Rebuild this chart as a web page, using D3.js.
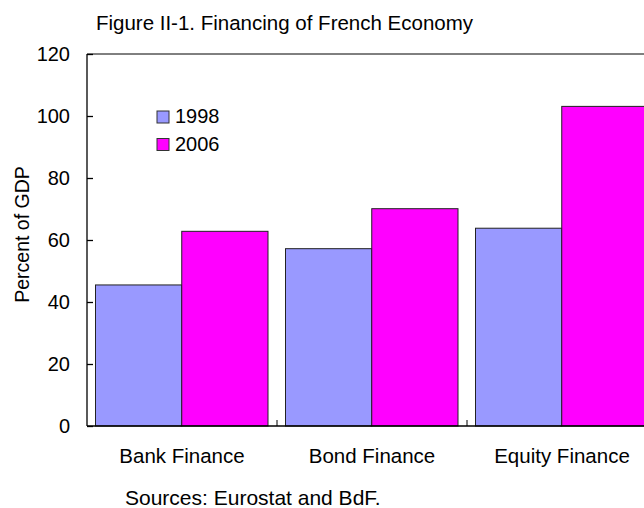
<!DOCTYPE html>
<html>
<head>
<meta charset="utf-8">
<script src="https://cdn.jsdelivr.net/npm/d3@7"></script>
<style>
  body { margin: 0; background: #fff; }
  text { font-family: "Liberation Sans", Arial, sans-serif; fill: #000; }
</style>
</head>
<body>
<div id="chart"></div>
<script>
var categories = ["Bank Finance", "Bond Finance", "Equity Finance"];
var years = ["1998", "2006"];
var values1998 = [45.5, 57.2, 63.8];
var values2006 = [62.8, 70.1, 103.1];
var yTicks = [0, 20, 40, 60, 80, 100, 120];
var colors = ["#9999ff", "#ff00ff"];

var width = 644;
var height = 508;
var plotLeft = 87, plotRight = 657, plotTop = 54, plotBottom = 426;

var svg = d3.select("#chart")
    .append("svg")
    .attr("width", width)
    .attr("height", height);

var x0 = d3.scaleBand().domain(categories).range([plotLeft, plotRight]);
var x1 = d3.scaleBand().domain(years).range([8.5, x0.bandwidth() - 9]);
var y = d3.scaleLinear().domain([0, 120]).range([plotBottom, plotTop]);

var series = [values1998, values2006];

// bars
var groups = svg.selectAll("g.cat")
    .data(categories)
    .enter().append("g")
    .attr("class", "cat")
    .attr("transform", function(d){ return "translate(" + x0(d) + ",0)"; });

groups.selectAll("rect")
    .data(function(d, i){ return years.map(function(yr, j){ return {yr: yr, v: series[j][i], c: colors[j]}; }); })
    .enter().append("rect")
    .attr("x", function(d){ return x1(d.yr); })
    .attr("y", function(d){ return y(d.v); })
    .attr("width", x1.bandwidth())
    .attr("height", function(d){ return y(0) - y(d.v); })
    .style("fill", function(d){ return d.c; })
    .style("stroke", "#222")
    .style("stroke-width", 1);

// frame top line
svg.append("line")
    .attr("x1", plotLeft).attr("x2", plotRight)
    .attr("y1", y(120)).attr("y2", y(120))
    .style("stroke", "#000").style("stroke-width", 1);

// y axis
var yAxis = d3.axisRight(y).tickValues(yTicks).tickSize(6).tickFormat("");
var yg = svg.append("g").attr("transform", "translate(" + plotLeft + ",0)").call(yAxis);
yg.select(".domain").attr("d", "M0," + y(120) + "V" + y(0));
yg.selectAll("line, path").style("stroke", "#000").style("stroke-width", 1.3);

svg.selectAll("text.ytick")
    .data(yTicks)
    .enter().append("text")
    .attr("class", "ytick")
    .attr("x", 70)
    .attr("y", function(d){ return y(d); })
    .attr("dy", "0.35em")
    .attr("text-anchor", "end")
    .style("font-size", "20px")
    .text(function(d){ return d; });

// x axis
var xAxis = d3.axisTop(x0).tickSize(0).tickFormat("");
var xg = svg.append("g").attr("transform", "translate(0," + plotBottom + ")").call(xAxis);
xg.select(".domain").attr("d", "M" + plotLeft + ",0H" + plotRight);
xg.selectAll("path").style("stroke", "#000").style("stroke-width", 1.5);

svg.selectAll("line.xtick")
    .data(categories.slice(1))
    .enter().append("line")
    .attr("class", "xtick")
    .attr("x1", function(d){ return x0(d); })
    .attr("x2", function(d){ return x0(d); })
    .attr("y1", plotBottom)
    .attr("y2", plotBottom - 6)
    .style("stroke", "#000");

svg.selectAll("text.xlab")
    .data(categories)
    .enter().append("text")
    .attr("class", "xlab")
    .attr("x", function(d){ return x0(d) + x0.bandwidth() / 2; })
    .attr("y", 463)
    .attr("text-anchor", "middle")
    .style("font-size", "20.5px")
    .text(function(d){ return d; });

// title
svg.append("text")
    .attr("x", 284.5)
    .attr("y", 30)
    .attr("text-anchor", "middle")
    .style("font-size", "20.5px")
    .text("Figure II-1. Financing of French Economy");

// y label
svg.append("text")
    .attr("transform", "rotate(-90)")
    .attr("x", -234.5)
    .attr("y", 29)
    .attr("text-anchor", "middle")
    .style("font-size", "19.5px")
    .text("Percent of GDP");

// legend
var legend = svg.selectAll("g.leg")
    .data(years)
    .enter().append("g")
    .attr("class", "leg")
    .attr("transform", function(d, i){ return "translate(157," + (111 + i * 27.5) + ")"; });

legend.append("rect")
    .attr("width", 12).attr("height", 12)
    .style("fill", function(d, i){ return colors[i]; })
    .style("stroke", "#333");

legend.append("text")
    .attr("x", 18)
    .attr("y", 12)
    .style("font-size", "20px")
    .text(function(d){ return d; });

// source
svg.append("text")
    .attr("x", 125)
    .attr("y", 505)
    .style("font-size", "21px")
    .text("Sources: Eurostat and BdF.");
</script>
</body>
</html>
